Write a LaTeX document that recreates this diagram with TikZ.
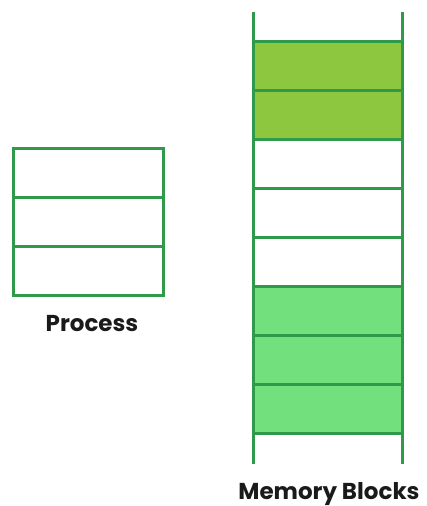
\documentclass[tikz,border=0pt]{standalone}
\usepackage{fontspec}
\setmainfont{Poppins}
\definecolor{gridline}{HTML}{2F9A4A}
\definecolor{usedgreen}{HTML}{8DC63F}
\definecolor{freegreen}{HTML}{72E17D}
\definecolor{labeltext}{HTML}{1A1A1A}
\tikzset{
  cell/.style={draw=gridline, line width=3pt, minimum width=150pt, minimum height=49pt, inner sep=0pt},
  rail/.style={draw=gridline, line width=3pt},
  caption/.style={text=labeltext, font=\bfseries\fontsize{23}{26}\selectfont, inner sep=0pt, anchor=base}
}
\begin{document}
\begin{tikzpicture}[x=1pt,y=1pt,yscale=-1]
\useasboundingbox (0,0) rectangle (427,506);

% Process
\node[cell] (p1) at (88,172.5) {};
\node[cell] (p2) at (88,221.5) {};
\node[cell] (p3) at (88,270.5) {};
\node[caption] (proc) at (92,331.5) {Process};

% Memory rails
\coordinate (lt) at (253,12);
\coordinate (lb) at (253,464);
\coordinate (rt) at (402,12);
\coordinate (rb) at (402,464);
\draw[rail] (lt) -- (lb);
\draw[rail] (rt) -- (rb);

% Memory blocks
\foreach \i/\c in {1/usedgreen,2/usedgreen,3/white,4/white,5/white,6/freegreen,7/freegreen,8/freegreen}
  \node[cell, minimum width=149pt, fill=\c] (m\i) at (327.5,{16.5+49*\i}) {};
\node[caption] (mem) at (329,499) {Memory Blocks};

\end{tikzpicture}
\end{document}
